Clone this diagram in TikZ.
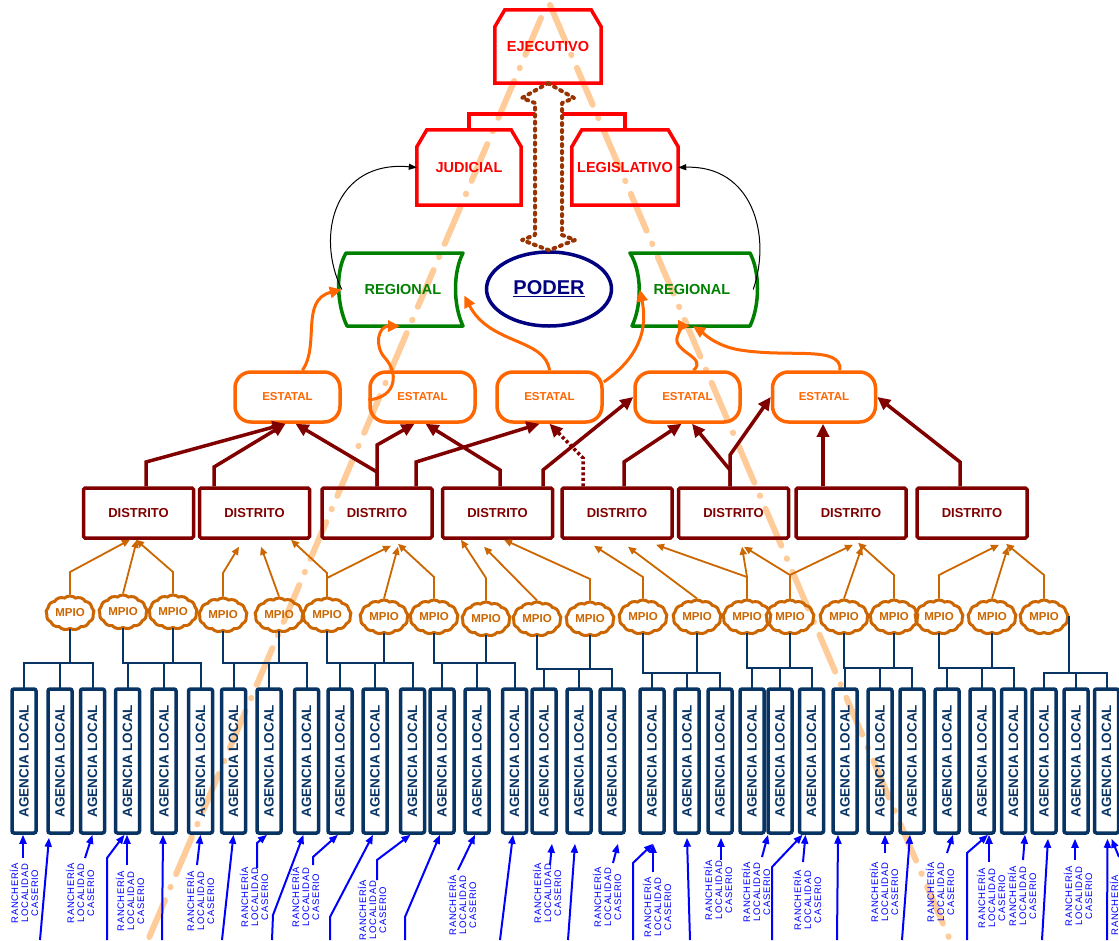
\documentclass[tikz,border=0pt]{standalone}
\usepackage{fontspec}
\setmainfont{Liberation Sans}
\newfontfamily\ranchfont[LetterSpace=6]{Liberation Sans}
\usetikzlibrary{arrows.meta,shapes.geometric,shapes.symbols}
\definecolor{cred}{RGB}{255,0,0}
\definecolor{cgreen}{RGB}{0,128,0}
\definecolor{cnavy}{RGB}{0,0,128}
\definecolor{corange}{RGB}{255,102,0}
\definecolor{cmpio}{RGB}{204,102,0}
\definecolor{cmaroon}{RGB}{128,0,0}
\definecolor{cagency}{RGB}{8,52,100}
\definecolor{cblue}{RGB}{0,0,255}
\definecolor{cbrown}{RGB}{153,51,0}
\definecolor{cpeach}{RGB}{255,204,153}
\newcommand\chamf[1]{\draw[redline] (#1.south west) -- ([yshift=-17pt]#1.north west) -- ([xshift=10pt]#1.north west) -- ([xshift=-10pt]#1.north east) -- ([yshift=-17pt]#1.north east) -- (#1.south east) -- cycle;}
\begin{document}
\begin{tikzpicture}[x=1pt,y=-1pt,
  redline/.style={draw=cred,line width=3.5pt,line join=miter},
  powtxt/.style={text=cred,font=\bfseries\fontsize{14.5}{16}\selectfont,inner sep=0pt},
  regtxt/.style={text=cgreen,font=\bfseries\fontsize{14.5}{16}\selectfont,inner sep=0pt},
  regline/.style={draw=cgreen,line width=3.5pt,line join=round},
  estbox/.style={draw=corange,line width=3.5pt,rounded corners=16pt,minimum width=105pt,minimum height=50pt,inner sep=0pt,text=corange,font=\bfseries\fontsize{11.5}{13}\selectfont},
  distbox/.style={draw=cmaroon,line width=3.5pt,rounded corners=1.5pt,minimum width=110pt,minimum height=50pt,inner sep=0pt,text=cmaroon,font=\bfseries\fontsize{13}{15}\selectfont},
  mpiobox/.style={cloud,cloud puffs=13,cloud puff arc=80,aspect=1.45,draw=cmpio,line width=3pt,minimum width=48pt,minimum height=34pt,inner sep=0pt,text=cmpio,font=\bfseries\fontsize{11.5}{13}\selectfont},
  agbox/.style={draw=cagency,line width=3.5pt,rounded corners=2pt,minimum width=24pt,minimum height=144pt,inner sep=0pt,text=cagency,font=\bfseries\fontsize{13.5}{15}\selectfont},
  ranch/.style={text=cblue,rotate=90,align=center,inner sep=0pt,font=\ranchfont\fontsize{9.5}{10}\selectfont},
  marr/.style={draw=cmaroon,line width=3.5pt,-{Triangle[length=13pt,width=12pt]}},
  oarr/.style={draw=corange,line width=3pt,-{Triangle[length=12pt,width=11pt]}},
  marrow/.style={draw=cmpio,line width=1.8pt,-{Triangle[length=8pt,width=7pt]}},
  barr/.style={draw=cblue,line width=2pt,-{Triangle[length=9pt,width=7pt]}},
  karr/.style={draw=black,line width=1pt,-{Triangle[length=8pt,width=6pt]}},
  tree/.style={draw=cagency,line width=2pt,line cap=rect},
  bgline/.style={draw=cpeach,line width=6pt,line cap=round,dash pattern=on 40pt off 14pt on 0.5pt off 14pt}
]
\fill[white] (0,0) rectangle (1119,940);
\useasboundingbox (0,0) rectangle (1119,940);
% background dash-dot lines
\draw[bgline] (541,18) -- (148,940);
\draw[bgline] (550,5) -- (950,940);

% ---- top level
\node[powtxt,minimum width=106pt,minimum height=73pt] (ejec) at (548,46.5) {EJECUTIVO};
\node[powtxt,minimum width=104pt,minimum height=75pt] (jud) at (469,167.5) {JUDICIAL};
\node[powtxt,minimum width=106pt,minimum height=75pt] (leg) at (625,167.5) {LEGISLATIVO};
\chamf{ejec}\chamf{jud}\chamf{leg}
\coordinate (rb) at (548,114);
\draw[redline] (jud.north) |- (rb) -| (leg.north);
\draw[redline] (ejec.south) -- (rb);

\node[ellipse,draw=cnavy,line width=3.5pt,minimum width=125pt,minimum height=74pt,inner sep=0pt,text=cnavy,font=\bfseries\fontsize{20}{22}\selectfont] (poder) at (549,289) {\underline{PODER}};
\draw[draw=cbrown,fill=white,line width=4pt,dash pattern=on 2pt off 5pt,line cap=round,line join=round]
  (ejec.south) -- (574,98) -- (562,103) -- (562,235) -- (575,240) -- (poder.north) -- (522,240) -- (535,235) -- (535,103) -- (522,98) -- cycle;

% ---- regional
\node[regtxt,minimum width=122pt,minimum height=73pt] (reg1) at (403,289.5) {REGIONAL};
\draw[regline] (346,253) -- (463,253) .. controls (453,272) and (453,305) .. (463,326) -- (347,326) .. controls (337,305) and (335,272) .. (346,253) -- cycle;
\node[regtxt,minimum width=122pt,minimum height=73pt] (reg2) at (692,289.5) {REGIONAL};
\draw[regline] (630,253) -- (750,253) .. controls (760,272) and (760,305) .. (750,326) -- (632,326) .. controls (642,305) and (642,272) .. (630,253) -- cycle;

\draw[karr] (reg1.west) .. controls (315,235) and (335,160) .. (jud.west);
\draw[karr] (reg2.east) .. controls (772,235) and (752,165) .. (leg.east);

% ---- estatal
\node[estbox] (e1) at (287.5,397) {ESTATAL};
\node[estbox] (e2) at (422.5,397) {ESTATAL};
\node[estbox] (e3) at (549.5,397) {ESTATAL};
\node[estbox] (e4) at (687.5,397) {ESTATAL};
\node[estbox,minimum width=103pt] (e5) at (824,397) {ESTATAL};

\draw[oarr] ([xshift=15pt]e1.north) .. controls (320,345) and (300,300) .. (reg1.west);
\draw[oarr] ([yshift=-3pt]e2.west) .. controls (398,397) and (398,372) .. (385,358) .. controls (374,346) and (378,326) .. ([xshift=-3pt]reg1.south);
\draw[oarr] (e3.north) .. controls (545,338) and (490,345) .. ([yshift=-6pt]reg1.east);
\draw[oarr] ([yshift=15pt]e3.east) .. controls (628,365) and (650,340) .. ([xshift=9pt]reg2.west);
\draw[oarr] ([xshift=6pt]e4.north) .. controls (708,358) and (674,352) .. (677,338) .. controls (679,330) and (684,326) .. ([xshift=-2pt]reg2.south);
\draw[oarr] ([xshift=16pt]e5.north) .. controls (842,345) and (790,358) .. (740,350) .. controls (715,346) and (702,332) .. ([xshift=1pt]reg2.south);

% ---- distrito
\foreach \i/\x in {1/138.5,2/254.5,3/377,4/497.5,5/617,6/733.5,7/851,8/972}
  \node[distbox] (d\i) at (\x,513) {DISTRITO};

\draw[marr] ([xshift=7.5pt]d1.north) -- (146,462) -- ([xshift=-2pt]e1.south);
\draw[marr] ([xshift=-40.5pt]d2.north) -- (214,467) -- ([xshift=-2pt]e1.south);
\draw[marr] (d3.north) -- (377,472) -- ([xshift=8pt]e1.south);
\draw[marr] (d3.north) -- (377,445) -- ([xshift=-8pt]e2.south);
\draw[marr] ([xshift=-81.5pt]d4.north) -- (416,462) -- ([xshift=-10pt]e3.south);
\draw[marr] ([xshift=2.5pt]d4.north) -- (500,470) -- ([xshift=3pt]e2.south);
\draw[marr] ([xshift=45.5pt]d4.north) -- (543,470) -- (e4.west);
\draw[marr,dash pattern=on 3pt off 2.5pt] ([xshift=-34pt]d5.north) -- (583,458) -- (e3.south);
\draw[marr] ([xshift=7pt]d5.north) -- (624,462) -- ([xshift=-6pt]e4.south);
\draw[marr] ([xshift=-3.5pt]d6.north) -- (730,455) -- (e5.west);
\draw[marr] ([xshift=-3.5pt]d6.north) -- (730,470) -- ([xshift=4.5pt]e4.south);
\draw[marr] ([xshift=-28pt]d7.north) -- ([xshift=-1pt]e5.south);
\draw[marr] ([xshift=-12pt]d8.north) -- (960,462) -- (e5.east);

% ---- mpio
\foreach \i/\x/\y in {1/70/613,2/123/612,3/173/612,4/223/615,5/279/615,6/327/615,7/384/617,8/434/617,9/486/619,10/537/619,11/590/619,12/643/617,13/697/617,14/747/617,15/790/617,16/844/617,17/894/617,18/939/617,19/992/617,20/1044/617}
  \node[mpiobox] (mp\i) at (\x,\y) {MPIO};

\draw[marrow] (mp1.north) -- (70,572) -- ([xshift=-8.5pt]d1.south);
\draw[marrow] (mp2.north) -- ([xshift=-1.5pt]d1.south);
\draw[marrow] (mp3.north) -- (173,572) -- ([xshift=-2.5pt]d1.south);
\draw[marrow] (mp4.north) -- (223,573) -- ([xshift=-15.5pt,yshift=-7pt]d2.south);
\draw[marrow] (mp5.north) -- ([xshift=6.5pt,yshift=-7pt]d2.south);
\draw[marrow] (mp6.north) -- (327,573) -- ([xshift=36.5pt]d2.south);
\draw[marrow] (mp6.north) -- (327,578) -- ([xshift=14pt,yshift=-6pt]d3.south);
\draw[marrow] (mp7.north) -- ([xshift=21pt,yshift=-7pt]d3.south);
\draw[marrow] (mp8.north) -- (434,577) -- ([xshift=21pt,yshift=-4pt]d3.south);
\draw[marrow] (mp9.north) -- (486,578) -- ([xshift=-36.5pt]d4.south);
\draw[marrow] (mp10.north) -- ([xshift=-13.5pt,yshift=-7pt]d4.south);
\draw[marrow] (mp11.north) -- (590,579) -- ([xshift=6.5pt]d4.south);
\draw[marrow] (mp12.north) -- (643,577) -- ([xshift=-23pt,yshift=-6pt]d5.south);
\draw[marrow] (mp13.north) -- ([xshift=11pt,yshift=-7pt]d5.south);
\draw[marrow] (mp14.north) -- (747,577) -- ([xshift=39pt,yshift=-5pt]d5.south);
\draw[marrow] (mp14.north) -- (747,577) -- ([xshift=8.5pt,yshift=-7pt]d6.south);
\draw[marrow] (mp15.north) -- (790,575) -- ([xshift=10.5pt,yshift=-7pt]d6.south);
\draw[marrow] (mp15.north) -- (790,575) -- ([xshift=2pt,yshift=-5pt]d7.south);
\draw[marrow] (mp16.north) -- ([xshift=11pt,yshift=-7pt]d7.south);
\draw[marrow] (mp17.north) -- (894,575) -- ([xshift=7pt,yshift=-3pt]d7.south);
\draw[marrow] (mp18.north) -- (939,575) -- ([xshift=27pt,yshift=-5pt]d8.south);
\draw[marrow] (mp19.north) -- ([xshift=36pt,yshift=-7pt]d8.south);
\draw[marrow] (mp20.north) -- (1044,575) -- ([xshift=34pt,yshift=-4pt]d8.south);

% ---- agencias
\foreach \i/\x in {1/24,2/60,3/92.5,4/127.5,5/164,6/200.5,7/233.5,8/269,9/306.5,10/340,11/375,12/412.5,13/442,14/477,15/514.5,16/544,17/579,18/612,19/652,20/687,21/720,22/752,23/780,24/811.5,25/845,26/880,27/912,28/947,29/982,30/1013.5,31/1044,32/1076,33/1106.5}
  \node[agbox] (a\i) at (\x,761) {\rotatebox{90}{AGENCIA LOCAL}};

\coordinate (t1) at (0,663);
\coordinate (t6) at (0,669);
\coordinate (t7) at (0,673);
\coordinate (t8) at (0,668);
\coordinate (t11) at (0,673);
\foreach \m/\t in {mp1/t1,mp2/t1,mp3/t1,mp4/t1,mp5/t1,mp6/t1,mp7/t1,mp8/t1,mp9/t1,mp10/t6,mp11/t6,mp12/t7,mp13/t7,mp14/t8,mp15/t8,mp16/t8,mp17/t8,mp18/t8,mp19/t8}
  \draw[tree] (\m.south) -- (\m.south |- \t);
\draw[tree] (mp20.east) -- (mp20.east |- t11);
\foreach \i/\t in {1/t1,2/t1,3/t1,4/t1,5/t1,6/t1,7/t1,8/t1,9/t1,10/t1,11/t1,12/t1,13/t1,14/t1,15/t1,16/t6,17/t6,18/t6,19/t7,20/t7,21/t7,22/t8,23/t8,24/t8,25/t8,26/t8,27/t8,28/t8,29/t8,30/t8,31/t11,32/t11,33/t11}
  \draw[tree] (a\i.north) -- (a\i.north |- \t);
\foreach \p/\q/\t in {a1/a3/t1,mp2/a6/t1,mp4/a9/t1,mp6/a12/t1,mp8/a15/t1,mp10/a18/t6,mp12/a21/t7,mp14/a24/t8,mp16/a27/t8,mp18/a30/t8,a31/a33/t11}
  \draw[tree] (\p |- \t) -- (\q |- \t);

% ---- rancherias
\foreach \n/\x/\y in {1/24/893,2/80/893,3/130/901,4/200/901,5/254/897,6/305/897,7/372/910,8/462/905,10/547/893,11/607/897,12/657/907,13/718/890,14/756/892,15/807/900,16/884/892,17/940/892,18/991/898,19/1022/896,20/1078/896,21/1124/905}
  \node[ranch] (r\n) at (\x,\y) {RANCHERÍA\\LOCALIDAD\\CASERIO};

\foreach \n/\sx/\sy/\t/\dx/\dy in {1/23/858/a1/-1/0,2/40/940/a2/-11/-3,3/85/858/a3/0/0,5/127/865/a4/-0.5/0,6/162/940/a5/-1/0,7/197/865/a6/0/0,8/222/940/a7/0/0,15/458/870/a14/-2/0,16/500/940/a15/-1.5/0,17/550/865/a16/8/-9,18/568/940/a17/-4/-9,19/613/863/a18/6/-9,21/653/872/a19/1/-9,22/690/940/a20/0/-3,23/721/860/a21/1/-3,24/762/857/a23/-12/0,26/803/862/a24/-6/0,27/837/940/a25/-7/0,28/885/853/a26/5/0,29/902/940/a27/-2/0,30/947/853/a28/6/0,32/989/862/a29/7/0,33/1023/860/a30/11.5/0,34/1042/940/a31/4/-4,35/1075/860/a32/-1/-4,36/1107/940/a33/1/-4,37/1119/857/a33/5/-4}
  {\coordinate (s\n) at (\sx,\sy); \draw[barr] (s\n) -- ([xshift=\dx pt,yshift=\dy pt]\t.south);}

\foreach \n/\sx/\sy/\bx/\by/\t/\dx/\dy in {4/107/940/107/858/a4/-3/0,9/257/868/257/843/a8/-2/0,10/272/940/273/915/a9/-3/0,11/313/865/313/857/a10/-2/0,12/330/940/330/917/a11/-2/0,13/377/880/377/860/a12/-2/0,14/405/940/405/917/a13/-2/0,20/633/940/633/863/a19/1/-9,25/772/940/772/867/a24/-9/0,31/967/940/967/853/a29/6/0}
  {\coordinate (s\n) at (\sx,\sy); \draw[barr] (s\n) -- (\bx,\by) -- ([xshift=\dx pt,yshift=\dy pt]\t.south);}
\end{tikzpicture}
\end{document}
